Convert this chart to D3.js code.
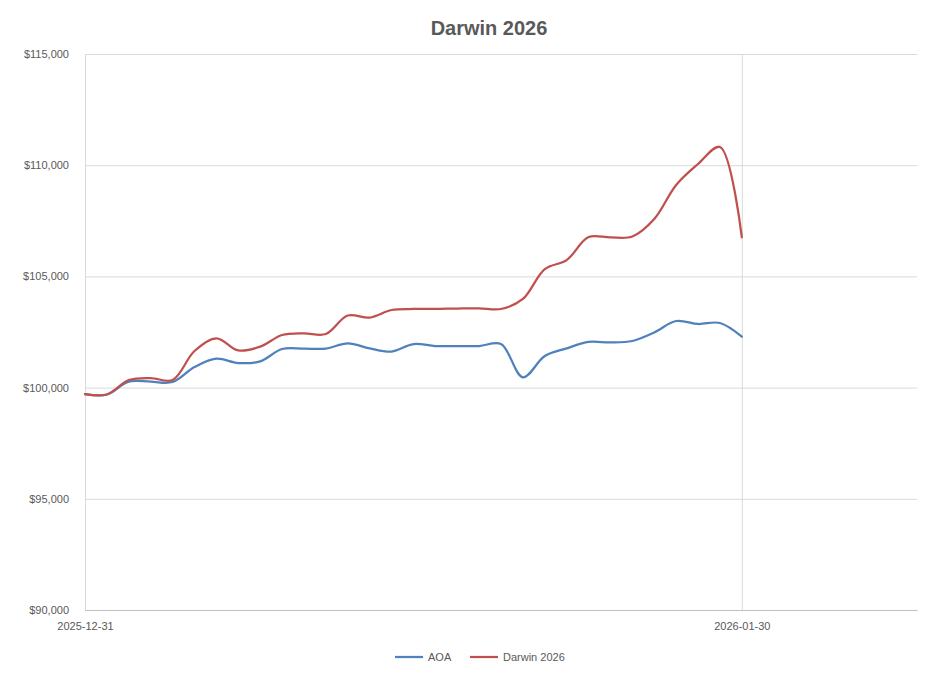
<!DOCTYPE html>
<html>
<head>
<meta charset="utf-8">
<script src="https://cdn.jsdelivr.net/npm/d3@7"></script>
<style>
  body { margin: 0; background: #fff; }
  text { font-family: "Liberation Sans", Arial, sans-serif; }
</style>
</head>
<body>
<svg id="chart"></svg>
<script>
// DATA ////////////////////////////////////////////////////////////////////

var dates = [
  "2025-12-31", "2026-01-01", "2026-01-02", "2026-01-03", "2026-01-04", "2026-01-05",
  "2026-01-06", "2026-01-07", "2026-01-08", "2026-01-09", "2026-01-10", "2026-01-11",
  "2026-01-12", "2026-01-13", "2026-01-14", "2026-01-15", "2026-01-16", "2026-01-17",
  "2026-01-18", "2026-01-19", "2026-01-20", "2026-01-21", "2026-01-22", "2026-01-23",
  "2026-01-24", "2026-01-25", "2026-01-26", "2026-01-27", "2026-01-28", "2026-01-29",
  "2026-01-30"
];

var aoa = [
  99710, 99690, 100270, 100265, 100250, 100925,
  101300, 101105, 101180, 101735, 101750, 101755,
  101990, 101765, 101620, 101955, 101870, 101870,
  101870, 101960, 100465, 101420, 101765, 102055,
  102030, 102095, 102480, 102995, 102860, 102905,
  102290
];

var darwin = [
  99710, 99690, 100340, 100430, 100340, 101645,
  102215, 101670, 101840, 102365, 102440, 102410,
  103240, 103150, 103490, 103535, 103535, 103555,
  103565, 103535, 103985, 105330, 105735, 106770,
  106750, 106795, 107580, 109110, 110055, 110820,
  106760
];

var seriesNames = ["AOA", "Darwin 2026"];
var yTicks = [90000, 95000, 100000, 105000, 110000, 115000];
var xTicks = ["2025-12-31", "2026-01-30"];
var xDomain = ["2025-12-31", "2026-02-07"];

// SETUP ///////////////////////////////////////////////////////////////////

var WIDTH = 935, HEIGHT = 673;
var PLOT_LEFT = 85, PLOT_RIGHT = 917, PLOT_TOP = 54, PLOT_BOTTOM = 610;
var COLOURS = ["#4F81BD", "#C0504D"];

var parse = d3.timeParse("%Y-%m-%d");
var fmt = d3.timeFormat("%Y-%m-%d");

var svg = d3.select("#chart")
    .attr("width", WIDTH)
    .attr("height", HEIGHT);

var x = d3.scaleTime()
    .domain(xDomain.map(parse))
    .range([PLOT_LEFT, PLOT_RIGHT]);

var y = d3.scaleLinear()
    .domain([90000, 115000])
    .range([PLOT_BOTTOM, PLOT_TOP]);

// title
svg.append("text")
    .attr("x", 489)
    .attr("y", 35)
    .attr("text-anchor", "middle")
    .attr("fill", "#595959")
    .style("font-size", "20px")
    .style("font-weight", "bold")
    .text("Darwin 2026");

// horizontal gridlines + y labels
var yAxis = svg.append("g")
    .attr("transform", "translate(" + PLOT_LEFT + ",0)")
    .call(d3.axisLeft(y)
        .tickValues(yTicks)
        .tickSize(-(PLOT_RIGHT - PLOT_LEFT))
        .tickSizeOuter(0)
        .tickPadding(16)
        .tickFormat(function (d) { return "$" + d3.format(",")(d); }));
yAxis.select(".domain").attr("stroke", "#BFBFBF");
yAxis.selectAll(".tick line").attr("stroke", "#D9D9D9");
yAxis.selectAll(".tick text")
    .attr("fill", "#595959")
    .style("font-size", "11px");

// vertical gridline + x labels
var xAxis = svg.append("g")
    .attr("transform", "translate(0," + PLOT_BOTTOM + ")")
    .call(d3.axisBottom(x)
        .tickValues(xTicks.map(parse))
        .tickSize(-(PLOT_BOTTOM - PLOT_TOP))
        .tickSizeOuter(0)
        .tickPadding(12)
        .tickFormat(fmt));
xAxis.select(".domain").attr("stroke", "#BFBFBF");
xAxis.selectAll(".tick line").attr("stroke", "#D9D9D9");
xAxis.selectAll(".tick text")
    .attr("fill", "#595959")
    .style("font-size", "11px");

// lines
var line = d3.line()
    .x(function (d) { return x(d.date); })
    .y(function (d) { return y(d.value); })
    .curve(d3.curveCatmullRom.alpha(0.5));

[aoa, darwin].forEach(function (values, s) {
    var pts = values.map(function (v, i) { return { date: parse(dates[i]), value: v }; });
    svg.append("path")
        .datum(pts)
        .attr("fill", "none")
        .attr("stroke", COLOURS[s])
        .attr("stroke-width", 2.25)
        .attr("stroke-linecap", "round")
        .attr("d", line);
});

// legend
var legend = svg.append("g")
    .selectAll("g")
    .data(seriesNames)
    .enter().append("g")
    .attr("transform", function (d, i) { return "translate(" + (395 + i * 75) + ",657)"; });

legend.append("line")
    .attr("x1", 0)
    .attr("x2", 28)
    .attr("stroke", function (d, i) { return COLOURS[i]; })
    .attr("stroke-width", 2.25);

legend.append("text")
    .attr("x", 33)
    .attr("dy", "0.35em")
    .attr("fill", "#595959")
    .style("font-size", "11px")
    .text(function (d) { return d; });
</script>
</body>
</html>
